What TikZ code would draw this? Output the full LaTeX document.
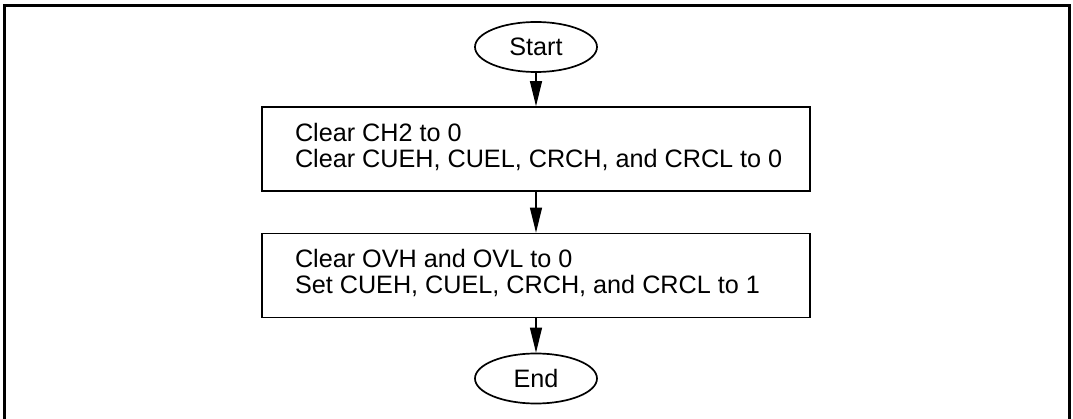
\documentclass[tikz,border=0pt]{standalone}
\usepackage{fontspec}
\setmainfont{Liberation Sans}
\usetikzlibrary{shapes.geometric,arrows.meta}
\newcommand{\boxtext}[1]{\makebox[487pt][l]{\hspace*{2.5pt}\begin{tabular}{@{}l@{}}#1\end{tabular}}}
\begin{document}
\begin{tikzpicture}[x=1pt,y=-1pt,
  term/.style={draw,line width=1.7pt,ellipse,minimum width=122pt,minimum height=50pt,inner sep=0pt,font=\fontsize{25.2}{25}\selectfont},
  stepbox/.style={draw,line width=1.7pt,rectangle,minimum width=548pt,minimum height=84pt,inner sep=0pt,font=\fontsize{25.2}{25}\selectfont},
  arr/.style={line width=1.3pt,-{Triangle[length=25pt,width=12pt]}},
  frame/.style={line width=3pt}]
\useasboundingbox (0,0) rectangle (1073,419);
\draw[frame] (4.5,425) -- (4.5,5.3) -- (1069.5,5.3) -- (1069.5,425);
\node[term] (start) at (536,47) {Start};
\node[stepbox] (b1) at (536,149) {\boxtext{Clear CH2 to 0\\Clear CUEH, CUEL, CRCH, and CRCL to 0}};
\node[stepbox] (b2) at (536,275.5) {\boxtext{Clear OVH and OVL to 0\\Set CUEH, CUEL, CRCH, and CRCL to 1}};
\node[term] (end) at (536,378.5) {End};
\draw[arr] (start) -- (b1);
\draw[arr] (b1) -- (b2);
\draw[arr] (b2) -- (end);
\end{tikzpicture}
\end{document}
